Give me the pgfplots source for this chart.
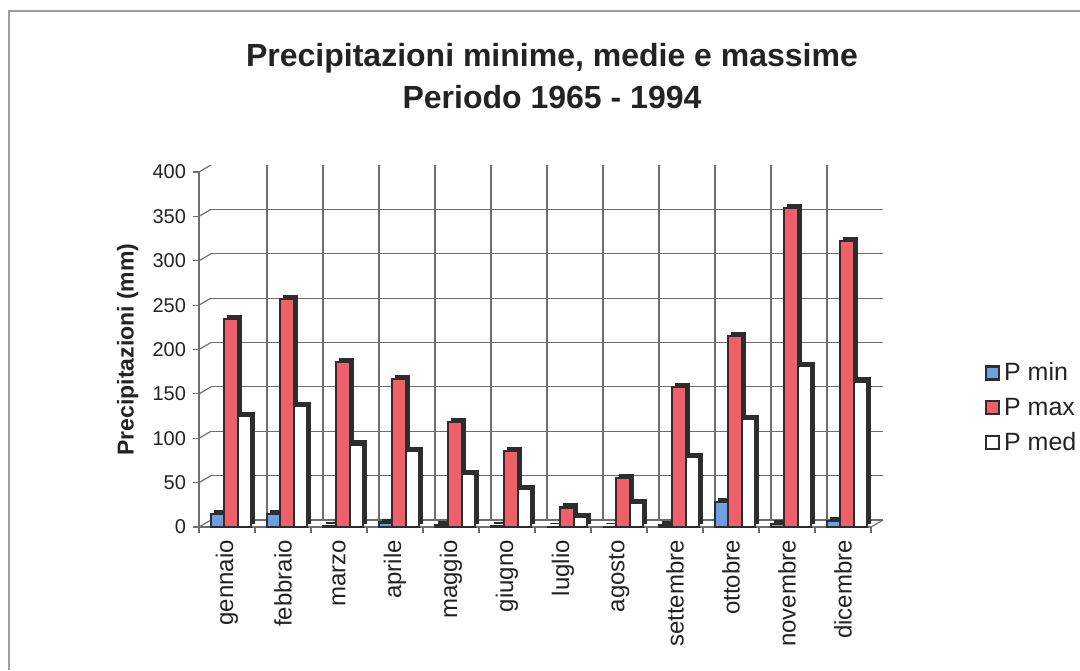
\documentclass[border=0pt]{standalone}
\usepackage{fontspec}
\setmainfont{Liberation Sans}
\usepackage{pgfplots}
\pgfplotsset{compat=1.18}
\usepackage{pgfplotstable}

\definecolor{pmin}{RGB}{110,160,225}
\definecolor{pmax}{RGB}{240,95,108}
\definecolor{pmed}{RGB}{255,255,255}
\definecolor{barline}{RGB}{45,45,45}
\definecolor{gridc}{RGB}{110,110,110}
\definecolor{txt}{RGB}{35,35,35}

\pgfplotstableread{
idx pmin pmax pmed
0  15 234 125
1  15 257 136
2   1 186  93
3   5 167  86
4   2 118  60
5   1  86  43
6   0  22  11
7   0  55  27
8   2 158  79
9  28 215 122
10  3 359 181
11  7 322 164
}\datatable

\begin{document}
\begin{tikzpicture}[x=1pt,y=1pt]
\useasboundingbox (0,0) rectangle (540,335);
\draw[gray!75, line width=0.7pt] (4.5,0) -- (4.5,329.5) -- (540,329.5);
\node[font=\bfseries\fontsize{16}{21}\selectfont, align=center, text=txt] at (276,297) {Precipitazioni minime, medie e massime\\Periodo 1965 - 1994};

% back wall grid
\begin{axis}[at={(105.5pt,75pt)}, anchor=south west, scale only axis,
  width=336pt, height=177.5pt,
  xmin=-0.5, xmax=11.5, ymin=0, ymax=400,
  xtick={0.5,1.5,...,10.5}, ytick={0,50,...,350},
  xticklabels={}, yticklabels={},
  major tick length=0pt,
  axis line style={draw=none},
  xmajorgrids, ymajorgrids,
  grid style={gridc, line width=0.6pt}]
\end{axis}

% front axis with bars
\begin{axis}[at={(99.5pt,71.5pt)}, anchor=south west, scale only axis,
  width=336pt, height=177.5pt,
  xmin=-0.5, xmax=11.5, ymin=0, ymax=400,
  clip=false,
  axis x line*=bottom, axis y line*=left,
  axis line style={gridc, line width=0.7pt, -},
  ytick={0,50,...,400},
  xtick={0,...,11},
  xticklabels={gennaio,febbraio,marzo,aprile,maggio,giugno,luglio,agosto,settembre,ottobre,novembre,dicembre},
  minor xtick={-0.5,0.5,...,11.5},
  tick align=outside,
  major tick length=3pt,
  minor tick length=3pt,
  tick style={gridc, line width=0.6pt},
  major x tick style={draw=none},
  /pgf/number format/assume math mode=true,
  x tick label style={rotate=90, anchor=east, font=\fontsize{12}{14}\selectfont, text=txt},
  y tick label style={font=\fontsize{10}{12}\selectfont, text=txt},
  ylabel={Precipitazioni (mm)},
  ylabel style={at={(axis description cs:-0.106,0.5)}, anchor=center, font=\bfseries\fontsize{11.5}{14}\selectfont, text=txt},
  ybar, bar width=6.75pt,
  legend style={at={(1.16,0.335)}, anchor=west, draw=none, fill=none,
    font=\fontsize{12.5}{15}\selectfont, text=txt, row sep=3pt,
    /tikz/every even column/.append style={column sep=1pt}},
  legend cell align=left,
  legend image code/.code={\draw[#1,/tikz/.cd, draw=barline, line width=1.1pt] (0pt,-3pt) rectangle (6.5pt,3.5pt);}
]
% depth connectors from the front axis to the back wall
\pgfplotsinvokeforeach{0,50,...,400}{
  \draw[gridc, line width=0.6pt] (axis cs:-0.5,#1) -- ([xshift=6pt,yshift=3.5pt]axis cs:-0.5,#1);
}
\draw[gridc, line width=0.6pt] (axis cs:11.5,0) -- ([xshift=6pt,yshift=3.5pt]axis cs:11.5,0);
% shadows (3D depth)
\addplot[fill=barline, draw=barline, bar shift=-4.75pt, xshift=1.8pt, yshift=1.8pt, forget plot] table[x=idx,y=pmin] {\datatable};
\addplot[fill=pmin, draw=barline, line width=1.1pt, bar shift=-4.75pt] table[x=idx,y=pmin] {\datatable};
\addplot[fill=barline, draw=barline, bar shift=2pt, xshift=1.8pt, yshift=1.8pt, forget plot] table[x=idx,y=pmax] {\datatable};
\addplot[fill=pmax, draw=barline, line width=1.1pt, bar shift=2pt] table[x=idx,y=pmax] {\datatable};
\addplot[fill=barline, draw=barline, bar shift=8.75pt, xshift=1.8pt, yshift=1.8pt, forget plot] table[x=idx,y=pmed] {\datatable};
\addplot[fill=pmed, draw=barline, line width=1.1pt, bar shift=8.75pt] table[x=idx,y=pmed] {\datatable};
\legend{P min, P max, P med}
\end{axis}
\end{tikzpicture}
\end{document}
